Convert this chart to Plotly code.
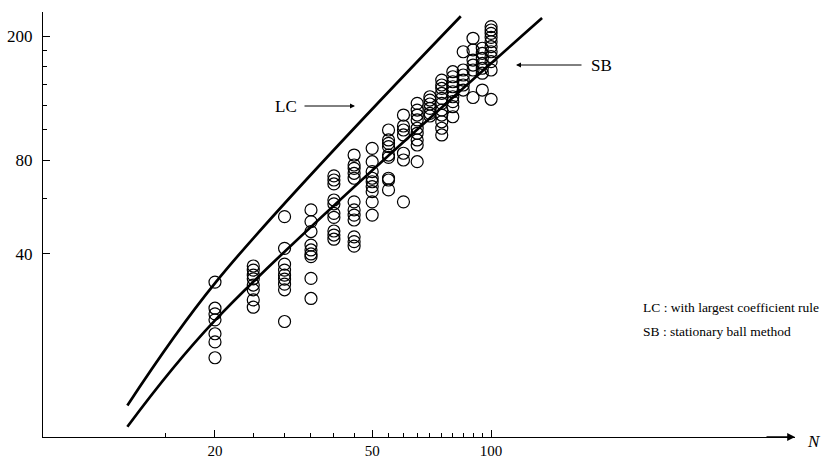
import plotly.graph_objects as go

# ---------------- data ----------------
N20 = [32.4, 26.7, 25.6, 24.5, 22.1, 20.8, 18.5]
N25 = [36.5, 35.4, 34.1, 33.2, 31.7, 30.6, 28.4, 26.9]
N30 = [52.6, 41.6, 37.0, 35.4, 34.1, 33.1, 31.9, 30.6, 24.2]
N35 = [55.3, 50.7, 47.1, 42.6, 41.1, 39.9, 39.1, 33.3, 28.7]
N40 = [71.1, 69.0, 67.0, 59.5, 57.8, 53.9, 52.3, 47.3, 45.9, 44.5]
N45 = [83.0, 77.1, 75.2, 72.5, 69.9, 58.7, 55.3, 53.2, 51.3, 45.3, 43.7, 42.3]
N50 = [87.2, 79.0, 73.4, 69.9, 68.1, 65.7, 63.3, 58.7, 53.2]
N55 = [99.9, 92.8, 90.5, 88.3, 83.0, 81.6, 69.9, 69.0, 64.1]
N60 = [111.6, 102.9, 99.9, 96.3, 84.1, 80.0, 58.7]
N65 = [121.7, 115.8, 111.6, 107.6, 101.2, 97.5, 92.8, 89.4, 79.0]
N70 = [127.8, 124.7, 121.1, 117.3, 113.0, 110.8]
N75 = [144.6, 139.4, 136.0, 131.1, 126.3, 121.7, 115.8, 111.6, 106.2, 101.2, 96.3]
N80 = [153.8, 148.2, 142.8, 137.6, 132.6, 127.8, 123.2, 118.7, 110.2]
N85 = [178.3, 155.8, 150.1, 144.6, 139.4, 134.3]
N90 = [197.0, 180.7, 167.7, 161.6, 155.8, 127.1]
N95 = [183.0, 176.3, 169.9, 163.7, 157.8, 152.1, 134.3]
N100 = [214.7, 209.5, 204.4, 198.4, 192.1, 185.1, 178.3, 171.9, 165.7, 155.8, 125.4]

sizes_N = [20, 25, 30, 35, 40, 45, 50, 55, 60, 65, 70, 75, 80, 85, 90, 95, 100]
columns = [N20, N25, N30, N35, N40, N45, N50, N55, N60, N65, N70, N75, N80,
           N85, N90, N95, N100]

# curves (LC: largest coefficient rule, SB: stationary ball method)
lc_N = [12.0, 20.1, 83.8]
lc_val = [13.0, 32.4, 232.0]
sb_N = [12.0, 20.0, 134.6]
sb_val = [11.1, 24.4, 228.9]

x_major = [20, 50, 100]
x_major_text = ["20", "50", "100"]
x_minor = [15, 25, 30, 35, 40, 45, 55, 60, 65, 70, 75, 80, 85, 90, 95]
y_major = [40, 80, 200]
y_major_text = ["40", "80", "200"]
y_minor = [60, 100, 120, 140, 160, 180]

# ---------------- layout geometry ----------------
W, H = 821, 459
L, R, T, B = 43, 26, 12, 22
PW, PH = W - L - R, H - T - B


def px(x):
    return (x - L) / PW


def py(y):
    return (H - B - y) / PH


SERIF = "Liberation Serif, Times New Roman, serif"

xs, ys = [], []
for n, col in zip(sizes_N, columns):
    xs += [n] * len(col)
    ys += col

fig = go.Figure()
fig.add_trace(go.Scatter(x=lc_N, y=lc_val, mode="lines",
                         line=dict(color="black", width=2.7, shape="spline",
                                   smoothing=1.0),
                         showlegend=False, hoverinfo="skip"))
fig.add_trace(go.Scatter(x=sb_N, y=sb_val, mode="lines",
                         line=dict(color="black", width=2.7, shape="spline",
                                   smoothing=1.0),
                         showlegend=False, hoverinfo="skip"))
fig.add_trace(go.Scatter(x=xs, y=ys, mode="markers",
                         marker=dict(symbol="circle-open", size=12,
                                     color="black", line=dict(width=1.2)),
                         showlegend=False))

axis_common = dict(
    showline=True, linecolor="black", linewidth=1.3,
    ticks="inside", tickcolor="black", tickwidth=1, ticklen=7,
    showgrid=False, zeroline=False, mirror=False, automargin=False,
)

fig.update_layout(
    width=W, height=H,
    margin=dict(l=L, r=R, t=T, b=B, autoexpand=False),
    paper_bgcolor="white", plot_bgcolor="white",
    font=dict(family=SERIF, color="black"),
    xaxis=dict(type="log", range=[0.8656, 2.7694],
               tickmode="array", tickvals=x_major, ticktext=x_major_text,
               tickfont=dict(family=SERIF, size=15, color="black"),
               minor=dict(tickmode="array", tickvals=x_minor, ticks="inside",
                          ticklen=4, tickcolor="black", showgrid=False),
               **axis_common),
    yaxis=dict(type="log", range=[1.0124, 2.379],
               tickmode="array", tickvals=y_major, ticktext=y_major_text,
               tickfont=dict(family=SERIF, size=17, color="black"),
               ticklabelstandoff=6,
               minor=dict(tickmode="array", tickvals=y_minor, ticks="inside",
                          ticklen=4, tickcolor="black", showgrid=False),
               **axis_common),
    showlegend=False,
)

ann = []
# x-axis arrow head
ann.append(dict(xref="paper", yref="paper", x=1.0, y=0.0, ax=-30, ay=0,
                text="", showarrow=True, arrowhead=2, arrowsize=1.2,
                arrowwidth=1.3, arrowcolor="black"))
ann.append(dict(xref="paper", yref="paper", x=px(805), y=py(441),
                xanchor="left", yanchor="middle", showarrow=False,
                text="<i>N</i>", font=dict(family=SERIF, size=17, color="black")))
# LC label and arrow
ann.append(dict(xref="paper", yref="paper", x=px(355), y=py(106), ax=-52, ay=0,
                text="", showarrow=True, arrowhead=2, arrowsize=1,
                arrowwidth=1, arrowcolor="black"))
ann.append(dict(xref="paper", yref="paper", x=px(299), y=py(106),
                xanchor="right", yanchor="middle", showarrow=False,
                text="LC", font=dict(family=SERIF, size=17, color="black")))
# SB label and arrow
ann.append(dict(xref="paper", yref="paper", x=px(516), y=py(65), ax=67, ay=0,
                text="", showarrow=True, arrowhead=2, arrowsize=1,
                arrowwidth=1, arrowcolor="black"))
ann.append(dict(xref="paper", yref="paper", x=px(589), y=py(65),
                xanchor="left", yanchor="middle", showarrow=False,
                text="SB", font=dict(family=SERIF, size=17, color="black")))
# legend text
ann.append(dict(xref="paper", yref="paper", x=px(641), y=py(307),
                xanchor="left", yanchor="middle", showarrow=False,
                text="LC : with largest coefficient rule",
                font=dict(family=SERIF, size=13.5, color="black")))
ann.append(dict(xref="paper", yref="paper", x=px(641), y=py(331),
                xanchor="left", yanchor="middle", showarrow=False,
                text="SB : stationary ball method",
                font=dict(family=SERIF, size=13.5, color="black")))
fig.update_layout(annotations=ann)

fig.write_html("out.html",
               config={"displayModeBar": False},
               post_script="document.body.style.margin='0';"
                           "document.body.style.overflow='hidden';")
